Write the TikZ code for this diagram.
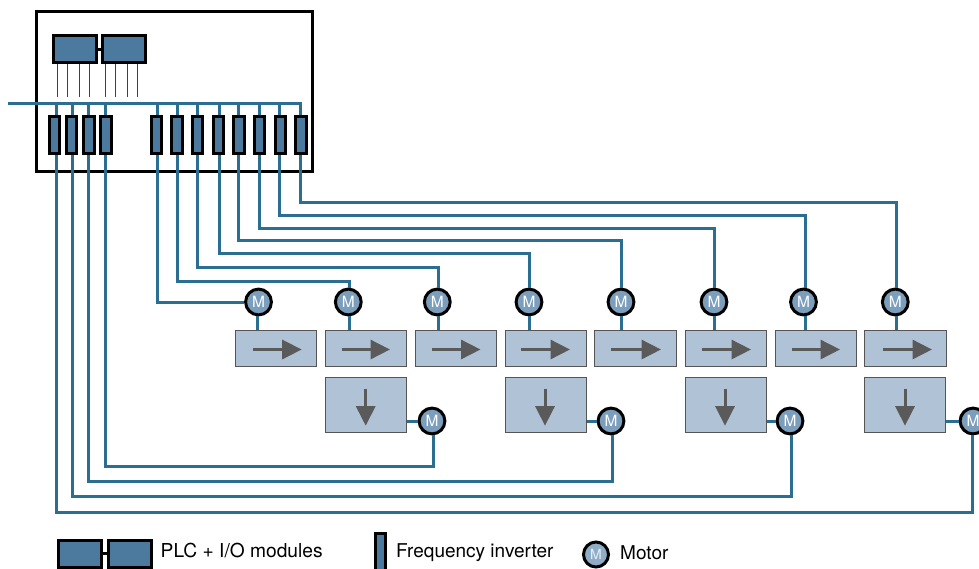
\documentclass[tikz,border=0pt]{standalone}
\usepackage{fontspec}
\setmainfont{TeX Gyre Heros}
\usetikzlibrary{arrows.meta,calc}
\definecolor{wire}{HTML}{2B6E92}
\definecolor{modfill}{HTML}{4C7A9E}
\definecolor{motfill}{HTML}{7C9EBD}
\definecolor{boxfill}{HTML}{B0C2D6}
\definecolor{boxline}{HTML}{555555}
\definecolor{arrowgrey}{HTML}{5A5A5A}
\tikzset{
  frame/.style={draw=black,line width=3pt,fill=white,inner sep=0pt,minimum width=276pt,minimum height=160.3pt},
  plc/.style={draw=black,line width=3pt,fill=modfill,inner sep=0pt,minimum width=43pt,minimum height=26.7pt},
  inv/.style={draw=black,line width=3pt,fill=modfill,inner sep=0pt,minimum width=10.3pt,minimum height=36.8pt},
  motor/.style={circle,draw=black,line width=3pt,fill=motfill,inner sep=0pt,minimum size=25.8pt,text=white,font=\fontsize{15.5}{16}\selectfont},
  beltbox/.style={draw=boxline,line width=1pt,fill=boxfill,inner sep=0pt,minimum width=81.5pt,minimum height=36pt},
  liftbox/.style={draw=boxline,line width=1pt,fill=boxfill,inner sep=0pt,minimum width=81.5pt,minimum height=54.5pt},
  wireline/.style={draw=wire,line width=3pt},
  sigline/.style={draw=black!75,line width=.9pt},
  legendtext/.style={anchor=west,inner sep=0pt,font=\fontsize{19}{20}\selectfont},
  flowarrow/.style={draw=arrowgrey,line width=3pt,-{Triangle[length=19.5pt,width=19pt,fill=arrowgrey]}},
}
\begin{document}
\begin{tikzpicture}[x=1pt,y=-1pt]
\useasboundingbox (0,0) rectangle (979,568);
\clip (0,0) rectangle (979,568);
\fill[white] (0,0) rectangle (979,568);
% cabinet
\node[frame] (cab) at (174.5,91.6) {};
\node[plc] (plcA) at (74.5,49.2) {};
\node[plc] (plcB) at (124.3,49.2) {};
\draw[black,line width=3pt] (plcA.east) -- (plcB.west);
% signal lines
\foreach \n/\x in {1/57,2/67.5,3/79,4/89.5}{
  \coordinate (sg\n) at (\x,97);
  \draw[sigline] (sg\n |- plcA.south) -- (sg\n);
}
\foreach \n/\x in {5/105.5,6/115.5,7/127,8/137.5}{
  \coordinate (sg\n) at (\x,97);
  \draw[sigline] (sg\n |- plcB.south) -- (sg\n);
}
% inverters and their wire taps
\foreach \n/\x/\t in {1/54.3/56.4,2/71.7/72.4,3/89/88.5,4/106/105.4,5/156.6/157,6/177/177,7/197.6/197.5,8/218.3/219.5,9/239/238.5,10/259.7/259,11/280.3/279,12/301/300}{
  \node[inv] (inv\n) at (\x,135) {};
  \coordinate (tap\n) at (\t,135);
}
% bus
\coordinate (busin) at (8,103);
\coordinate (busend) at (301.5,103);
\draw[wireline] (busin) -- (busend);
\foreach \n in {1,...,12}{
  \draw[wireline] (tap\n |- busin) -- (tap\n |- inv\n.north);
}
% conveyors
\foreach \n/\x in {1/276,2/366,3/456,4/546,5/635.5,6/726,7/816,8/905.5}{
  \node[beltbox] (belt\n) at (\x,348) {};
}
\foreach \n/\x in {1/366,2/546,3/726,4/905}{
  \node[liftbox] (lift\n) at (\x,405) {};
}
% belt arrows
\foreach \n/\a/\b in {1/253/301.7,2/341.5/390,3/432/480.5,4/521/570,5/611/661,6/702/751,7/791.7/840,8/883/932}{
  \coordinate (as\n) at (\a,349.5);
  \coordinate (ae\n) at (\b,349.5);
  \draw[flowarrow] (as\n) -- (ae\n);
}
\foreach \n/\x in {1/365.7,2/545,3/725,4/905}{
  \coordinate (ds\n) at (\x,388.5);
  \coordinate (de\n) at (\x,425.7);
  \draw[flowarrow] (ds\n) -- (de\n);
}
% motors on belts
\foreach \n/\x/\w in {1/258.5/257.8,2/348.3/349.4,3/437.3/438.7,4/529/529.5,5/621/621.5,6/714/714.5,7/803.5/805,8/895.3/896.5}{
  \node[motor] (mot\n) at (\x,302) {M};
  \coordinate (mw\n) at (\w,302);
  \draw[wireline] (mw\n |- mot\n.south) -- (mw\n |- belt\n.north);
}
% motors on lifts
\foreach \n/\x/\w in {1/432/433,2/611/612,3/790/791.3,4/973/972.7}{
  \node[motor] (lmot\n) at (\x,421) {M};
  \coordinate (lw\n) at (\w,421);
  \draw[wireline] (lmot\n.west) -- (lmot\n.west -| lift\n.east);
}
% routes to belt motors
\draw[wireline] (tap5 |- inv5.south) |- (mot1.west);
\foreach \i/\m/\lane in {6/2/281,7/3/267,8/4/253.5,9/5/240,10/6/228,11/7/215,12/8/202}{
  \coordinate (lane\m) at (0,\lane);
  \draw[wireline] (tap\i |- inv\i.south) |- (mw\m |- lane\m) -- (mw\m |- mot\m.north);
}
% routes to lift motors
\foreach \i/\m/\lane in {4/1/466,3/2/481,2/3/496.5,1/4/512}{
  \coordinate (llane\m) at (0,\lane);
  \draw[wireline] (tap\i |- inv\i.south) |- (lw\m |- llane\m) -- (lw\m |- lmot\m.south);
}
% legend
\node[plc] (legA) at (80,553.7) {};
\node[plc] (legB) at (129.5,553.7) {};
\draw[black,line width=3pt] (legA.east) -- (legB.west);
\node[legendtext,font=\fontsize{19.2}{20}\selectfont] (legt1) at (160.5,550.5) {PLC + I/O modules};
\node[inv,minimum height=40pt] (legI) at (380.3,553) {};
\node[legendtext] (legt2) at (396,553) {Frequency inverter};
\node[motor,minimum size=25pt,fill=motfill!85!white,font=\fontsize{14}{15}\selectfont,text=white!85!motfill] (legM) at (596,554.5) {M};
\node[legendtext] (legt3) at (620,552.5) {Motor};
\end{tikzpicture}
\end{document}
